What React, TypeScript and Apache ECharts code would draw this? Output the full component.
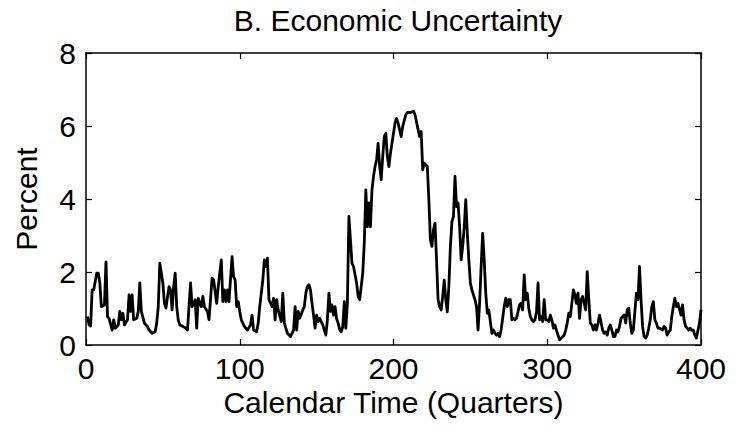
import React, { useEffect, useRef } from "react";
import * as echarts from "echarts";

// Uncertainty series, percent, by calendar quarter
const quarters = [
  1, 2, 3, 4, 5, 7, 8, 9, 10, 12, 13, 14, 15, 17, 18, 19, 21, 22, 23, 24, 25, 27, 28, 29, 30, 31, 33, 34, 35, 36,
  38, 39, 40, 41, 43, 45, 46, 47, 48, 50, 51, 52, 54, 55, 56, 57, 58, 59, 60, 61, 63, 65, 66, 68, 69, 71, 72, 73,
  75, 76, 77, 79, 80, 82, 83, 85, 86, 88, 89, 90, 91, 92, 93, 95, 96, 97, 98, 99, 100, 101, 103, 105, 107, 108,
  109, 111, 112, 113, 115, 116, 117, 118, 119, 121, 122, 123, 124, 125, 127, 128, 129, 131, 133, 135, 136, 137,
  138, 139, 141, 142, 143, 144, 145, 146, 147, 148, 149, 150, 151, 152, 154, 155, 156, 157, 158, 159, 160, 161,
  162, 163, 164, 165, 166, 167, 168, 169, 170, 171, 172, 173, 174, 176, 177, 178, 180, 181, 182, 183, 184, 185,
  186, 187, 188, 189, 190, 191, 192, 193, 194, 195, 196, 197, 198, 200, 201, 202, 203, 205, 206, 208, 209, 211,
  213, 214, 216, 217, 218, 219, 220, 222, 223, 224, 225, 226, 227, 228, 229, 230, 231, 232, 233, 234, 235, 236,
  237, 238, 239, 240, 241, 242, 243, 244, 245, 246, 247, 248, 249, 250, 251, 253, 254, 255, 256, 257, 258, 259,
  260, 261, 262, 264, 265, 266, 267, 268, 269, 270, 272, 273, 274, 275, 276, 277, 278, 279, 280, 282, 283, 284,
  285, 286, 287, 288, 289, 290, 291, 292, 293, 294, 295, 296, 297, 298, 299, 300, 301, 302, 303, 304, 305, 306,
  307, 308, 310, 311, 312, 313, 314, 315, 316, 317, 318, 319, 320, 321, 322, 323, 325, 326, 327, 328, 329, 330,
  331, 332, 333, 334, 336, 337, 338, 339, 340, 341, 342, 343, 344, 345, 346, 347, 348, 350, 351, 352, 353, 354,
  355, 356, 357, 358, 359, 360, 361, 362, 363, 364, 365, 366, 367, 368, 369, 370, 371, 372, 373, 375, 376, 377,
  378, 379, 380, 381, 382, 383, 384, 385, 387, 388, 389, 390, 391, 392, 393, 394, 395, 396, 397, 399, 400,
];

const percent = [
  0.78, 0.55, 0.52, 1.51, 1.51, 1.97, 1.97, 1.7, 1.05, 1.1, 2.28, 0.78, 0.73, 0.41, 0.69, 0.46, 0.55, 0.92, 0.69, 0.87, 0.55, 0.69, 1.37, 0.92, 1.37, 0.69, 0.73, 0.92, 1.7, 0.92,
  0.6, 0.55, 0.51, 0.41, 0.32, 0.36, 0.6, 1.05, 2.24, 1.7, 1.14, 1.01, 1.6, 1.51, 0.96, 1.6, 1.97, 1.05, 0.69, 0.55, 0.51, 0.46, 0.41, 1.7, 1.05, 1.24, 0.46, 1.28,
  1.05, 1.33, 1.05, 0.92, 0.69, 1.83, 1.78, 1.14, 1.6, 2.33, 1.19, 1.51, 1.19, 1.51, 1.19, 2.42, 1.87, 1.78, 1.05, 1.19, 0.92, 0.69, 0.51, 0.41, 0.55, 0.82,
  0.41, 0.36, 0.6, 1.05, 1.78, 2.33, 2.15, 2.38, 1.24, 1.05, 1.28, 0.69, 1.24, 0.96, 0.64, 1.42, 0.6, 0.32, 0.23, 0.41, 1.05, 0.41,
  0.92, 0.73, 0.96, 1.05, 1.42, 1.6, 1.65, 1.51, 1.14, 0.82, 0.46, 0.82, 0.64, 0.73, 0.55, 0.41, 0.27, 0.69, 1.42, 0.92, 1.1, 0.82,
  1.05, 0.72, 0.6, 0.42, 0.36, 0.5, 1.19, 0.46, 1.14, 3.52, 2.88, 2.24, 2.15, 1.7, 1.33, 1.24, 1.97, 2.8, 4.25, 3.24, 3.89, 3.24,
  4.25, 4.62, 4.89, 5.07, 5.53, 4.89, 4.53, 5.16, 5.71, 5.8, 5.16, 4.89, 5.25, 5.8, 6.08, 6.21, 6.08, 5.71, 5.99, 6.31, 6.37, 6.37,
  6.4, 6.31, 5.9, 5.71, 5.85, 4.8, 4.98, 4.89, 3.98, 2.88, 2.7, 3.15, 3.34, 2.33, 1.24, 1.05, 0.96, 1.33, 1.78, 1.24, 0.91, 1.6,
  2.7, 3.38, 3.52, 4.62, 3.79, 3.89, 3.24, 2.33, 2.7, 3.24, 3.98, 3.06, 2.33, 1.7, 1.51, 1.24, 1.05, 0.41, 1.14, 2.15, 3.06, 2.33,
  1.42, 0.87, 0.96, 0.32, 0.41, 0.32, 0.27, 0.32, 0.23, 0.41, 1.05, 1.28, 1.05, 1.24, 1.24, 0.69, 0.73, 0.69, 0.73, 1.1, 1.14, 0.96,
  1.92, 1.24, 1.42, 1.0, 0.78, 0.69, 0.64, 0.69, 0.9, 1.7, 0.69, 0.78, 0.64, 1.24, 0.69, 0.69, 0.64, 0.82, 0.69, 0.46, 0.55, 0.41,
  0.27, 0.14, 0.23, 0.27, 0.41, 0.6, 0.87, 0.78, 1.14, 1.51, 1.37, 1.14, 1.42, 0.73, 1.24, 1.33, 0.96, 2.01, 1.28, 0.6, 0.55, 0.41,
  0.55, 0.41, 0.6, 0.82, 0.41, 0.32, 0.36, 0.27, 0.46, 0.55, 0.41, 0.23, 0.23, 0.41, 0.36, 0.51, 0.73, 0.82, 0.6, 0.96, 1.01, 0.6,
  0.32, 0.41, 0.92, 1.42, 1.24, 2.15, 1.24, 0.51, 0.23, 0.19, 0.27, 0.46, 0.69, 1.05, 1.19, 0.69, 0.6, 0.46, 0.46, 0.41, 0.51, 0.46,
  0.27, 0.36, 0.41, 0.78, 1.05, 1.28, 1.05, 1.14, 0.82, 1.1, 0.69, 0.51, 0.46, 0.41, 0.46, 0.41, 0.41, 0.27, 0.19, 0.6, 0.96,
];

const xTicks = { min: 0, max: 400, interval: 100 };
const yTicks = { min: 0, max: 8, interval: 2 };

const FONT = "'Liberation Sans', Arial, Helvetica, sans-serif";

export default function App() {
  const ref = useRef<HTMLDivElement>(null);

  useEffect(() => {
    if (!ref.current) return;
    const chart = echarts.init(ref.current, undefined, { renderer: "svg" });

    const frameLine = { show: true, onZero: false, lineStyle: { color: "#000", width: 1.5 } };
    const innerTick = { show: true, inside: true, length: 6, lineStyle: { color: "#000", width: 1.2 } };
    const label = { color: "#000", fontSize: 30, fontFamily: FONT };

    chart.setOption({
      animation: false,
      backgroundColor: "#fff",
      title: {
        text: "B. Economic Uncertainty",
        left: 393,
        top: 0,
        textAlign: "center",
        textStyle: { color: "#000", fontSize: 30, fontWeight: "normal", fontFamily: FONT },
      },
      grid: { left: 86, right: 39, top: 53, bottom: 96, containLabel: false },
      xAxis: [
        {
          type: "value",
          position: "bottom",
          ...xTicks,
          axisLine: frameLine,
          axisTick: innerTick,
          axisLabel: { ...label, margin: 8 },
          splitLine: { show: false },
          name: "Calendar Time (Quarters)",
          nameLocation: "middle",
          nameGap: 37,
          nameTextStyle: label,
        },
        {
          type: "value",
          position: "top",
          ...xTicks,
          axisLine: frameLine,
          axisTick: innerTick,
          axisLabel: { show: false },
          splitLine: { show: false },
        },
      ],
      yAxis: [
        {
          type: "value",
          position: "left",
          ...yTicks,
          axisLine: frameLine,
          axisTick: innerTick,
          axisLabel: { ...label, margin: 10 },
          splitLine: { show: false },
          name: "Percent",
          nameLocation: "middle",
          nameGap: 45,
          nameTextStyle: label,
        },
        {
          type: "value",
          position: "right",
          ...yTicks,
          axisLine: frameLine,
          axisTick: innerTick,
          axisLabel: { show: false },
          splitLine: { show: false },
        },
      ],
      series: [
        {
          type: "line",
          xAxisIndex: 0,
          yAxisIndex: 0,
          data: quarters.map((q, i) => [q, percent[i]]),
          showSymbol: false,
          lineStyle: { color: "#000", width: 2.8, join: "round" },
        },
      ],
    });

    return () => chart.dispose();
  }, []);

  return (
    <div
      ref={ref}
      style={{ position: "fixed", left: 0, top: 0, width: 740, height: 441, background: "#fff" }}
    />
  );
}
